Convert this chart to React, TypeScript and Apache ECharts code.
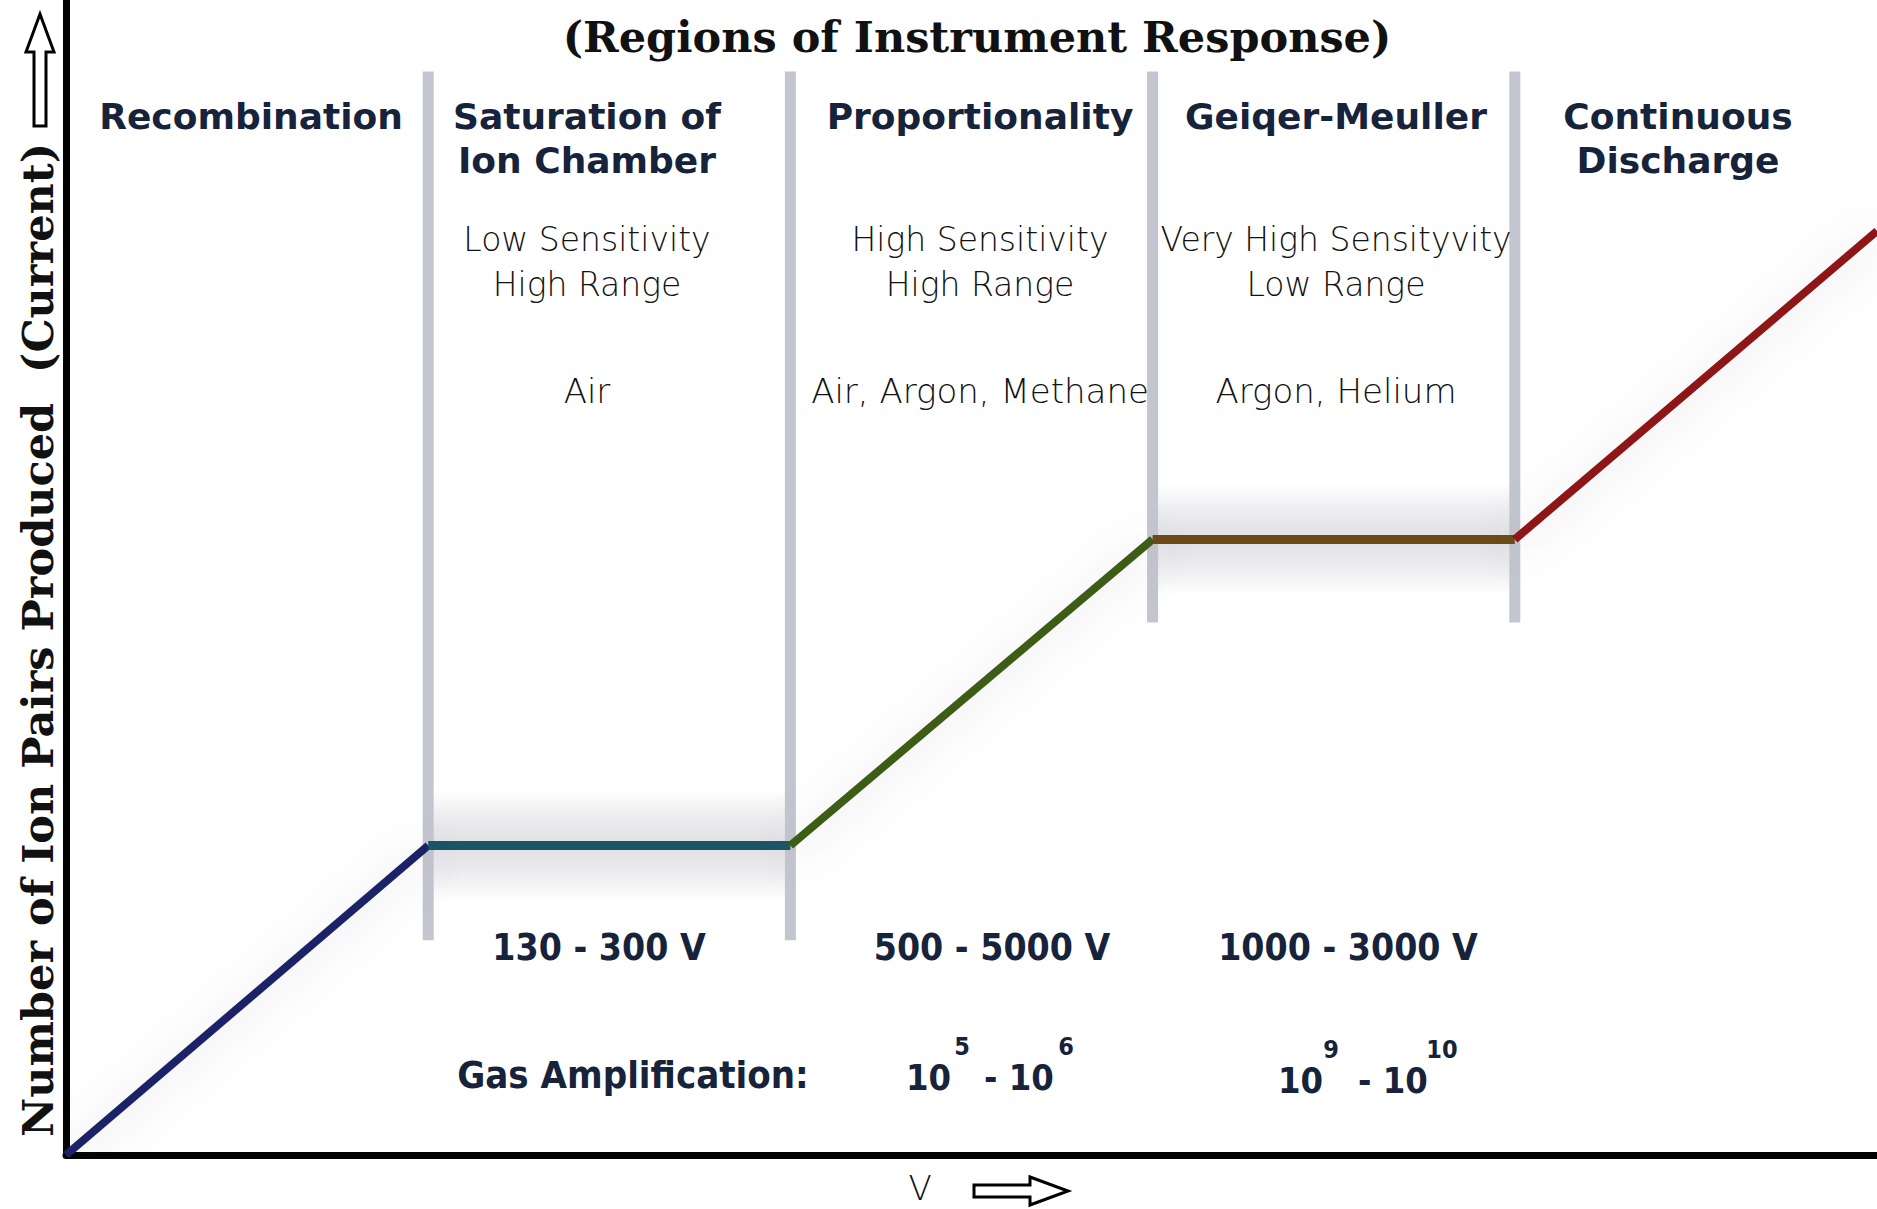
import React, { useEffect, useRef } from "react";
import * as echarts from "echarts";

// Curve break points (abstract voltage, relative ion pairs)
const voltage = [0, 20, 40, 60, 80, 100];
const response = [0, 26.8, 26.8, 53.3, 53.3, 80];
const segmentColors = ["#1c2468", "#1a5566", "#3d5c12", "#6b4a16", "#8e1214"];

// Region boundaries (gray dividers)
const dividerX = [20, 40, 60, 80];
const dividerTop = [93.8, 93.8, 93.8, 93.8];
const dividerBottom = [18.6, 18.6, 46.1, 46.1];

// Texts
const titleText = "(Regions of Instrument Response)";
const yAxisName = "Number of Ion Pairs Produced  (Current)";
const regionNames = [
  ["Recombination"],
  ["Saturation of", "Ion Chamber"],
  ["Proportionality"],
  ["Geiqer-Meuller"],
  ["Continuous", "Discharge"],
];
const sensitivity = [
  [],
  ["Low Sensitivity", "High Range"],
  ["High Sensitivity", "High Range"],
  ["Very High Sensityvity", "Low Range"],
  [],
];
const gases = ["", "Air", "Air, Argon, Methane", "Argon, Helium", ""];
const voltageRanges = ["", "130 - 300 V", "500 - 5000 V", "1000 - 3000 V", ""];
const gasAmpLabel = "Gas Amplification:";
const ampBase = ["", "", "10", "10", ""];
const ampFrom = ["", "", "5", "9", ""];
const ampTo = ["", "", "6", "10", ""];

const regionCenters = [251, 587, 980, 1336, 1678];

export default function App() {
  const ref = useRef<HTMLDivElement>(null);
  useEffect(() => {
    if (!ref.current) return;
    const chart = echarts.init(ref.current, undefined, { renderer: "svg" });

    const series: any[] = [];
    dividerX.forEach((x, i) => {
      series.push({
        type: "line",
        data: [
          [x, dividerBottom[i]],
          [x, dividerTop[i]],
        ],
        symbol: "none",
        silent: true,
        z: 1,
        lineStyle: { color: "#c3c5cf", width: 11 },
      });
    });
    for (let i = 0; i < voltage.length - 1; i++) {
      const flat = response[i] === response[i + 1];
      const s: any = {
        type: "line",
        data: [
          [voltage[i], response[i]],
          [voltage[i + 1], response[i + 1]],
        ],
        symbol: "none",
        z: 3,
        lineStyle: flat
          ? { color: segmentColors[i], width: 9 }
          : {
              color: segmentColors[i],
              width: 8,
              shadowColor: "rgba(120,110,120,0.3)",
              shadowBlur: 40,
              shadowOffsetY: 6,
            },
      };
      if (flat) {
        s.markArea = {
          silent: true,
          itemStyle: {
            color: {
              type: "linear",
              x: 0,
              y: 0,
              x2: 0,
              y2: 1,
              colorStops: [
                { offset: 0, color: "rgba(218,218,224,0)" },
                { offset: 0.25, color: "rgba(218,218,224,0.5)" },
                { offset: 0.5, color: "rgba(212,212,220,0.75)" },
                { offset: 0.75, color: "rgba(218,218,224,0.5)" },
                { offset: 1, color: "rgba(218,218,224,0)" },
              ],
            },
          },
          data: [
            [
              { xAxis: voltage[i], yAxis: response[i] + 4.8 },
              { xAxis: voltage[i + 1], yAxis: response[i] - 4.8 },
            ],
          ],
        };
      }
      series.push(s);
    }

    const hdrFont = '"DejaVu Sans", sans-serif';
    const condFont = '"DejaVu Sans Condensed", "DejaVu Sans", sans-serif';
    const lightFont = '"DejaVu Sans", sans-serif';
    const graphics: any[] = [];
    const txt = (text: string, x: number, y: number, style: any, align = "center") =>
      graphics.push({
        type: "text",
        x,
        y,
        z: 10,
        style: { text, align, verticalAlign: "middle", fill: "#111", ...style },
      });

    txt(titleText, 977, 37, { font: 'bold 43px "DejaVu Serif", serif', fill: "#111" });
    graphics.push({
      type: "text",
      x: 38,
      y: 640,
      rotation: Math.PI / 2,
      z: 10,
      style: {
        text: yAxisName,
        align: "center",
        verticalAlign: "middle",
        font: 'bold 43px "DejaVu Serif", serif',
        fill: "#111",
      },
    });

    const navy = "#16233a";
    regionNames.forEach((lines, i) => {
      lines.forEach((l, j) =>
        txt(l, regionCenters[i], 116 + j * 44, { font: `bold 36px ${hdrFont}`, fill: navy })
      );
    });
    sensitivity.forEach((lines, i) => {
      lines.forEach((l, j) =>
        txt(l, regionCenters[i], 239 + j * 45, { font: `200 33px ${lightFont}`, fill: "#111" })
      );
    });
    gases.forEach((g, i) => {
      if (g) txt(g, regionCenters[i], 391, { font: `200 34px ${lightFont}`, fill: "#111" });
    });
    voltageRanges.forEach((v, i) => {
      if (v) txt(v, regionCenters[i] + 12, 947, { font: `bold 37px ${condFont}`, fill: navy });
    });
    txt(gasAmpLabel, 633, 1075, { font: `bold 38px ${condFont}`, fill: navy });

    const baseX = [0, 0, 906, 1278, 0];
    const dashX = [0, 0, 984, 1358, 0];
    const supFromX = [0, 0, 962, 1331, 0];
    const supToX = [0, 0, 1066, 1442, 0];
    const baseY = [0, 0, 1077, 1080, 0];
    ampBase.forEach((b, i) => {
      if (!b) return;
      txt(b, baseX[i], baseY[i], { font: `bold 36px ${condFont}`, fill: navy }, "left");
      txt(`- ${b}`, dashX[i], baseY[i], { font: `bold 36px ${condFont}`, fill: navy }, "left");
      txt(ampFrom[i], supFromX[i], baseY[i] - 31, { font: `bold 25px ${condFont}`, fill: navy });
      txt(ampTo[i], supToX[i], baseY[i] - 31, { font: `bold 25px ${condFont}`, fill: navy });
    });

    // V label and arrows
    txt("V", 920, 1188, { font: `200 34px ${lightFont}`, fill: "#111" });
    graphics.push({
      type: "polygon",
      z: 10,
      shape: {
        points: [
          [974, 1185],
          [1030, 1185],
          [1030, 1177],
          [1068, 1191],
          [1030, 1205],
          [1030, 1197],
          [974, 1197],
        ],
      },
      style: { fill: "#fff", stroke: "#000", lineWidth: 3 },
    });
    graphics.push({
      type: "polygon",
      z: 10,
      shape: {
        points: [
          [34, 126],
          [34, 52],
          [26, 52],
          [40, 14],
          [54, 52],
          [46, 52],
          [46, 126],
        ],
      },
      style: { fill: "#fff", stroke: "#000", lineWidth: 3 },
    });

    chart.setOption({
      animation: false,
      backgroundColor: "#ffffff",
      grid: { left: 66, right: 0, top: 0, bottom: 54, containLabel: false },
      xAxis: {
        type: "value",
        min: 0,
        max: 100,
        axisLine: { show: true, onZero: false, lineStyle: { color: "#000", width: 7 } },
        axisTick: { show: false },
        axisLabel: { show: false },
        splitLine: { show: false },
      },
      yAxis: {
        type: "value",
        min: 0,
        max: 100,
        axisLine: { show: true, onZero: false, lineStyle: { color: "#000", width: 7 } },
        axisTick: { show: false },
        axisLabel: { show: false },
        splitLine: { show: false },
      },
      series,
      graphic: graphics,
    });
    return () => chart.dispose();
  }, []);
  return <div ref={ref} style={{ width: 1877, height: 1209, position: "absolute", left: 0, top: 0 }} />;
}
